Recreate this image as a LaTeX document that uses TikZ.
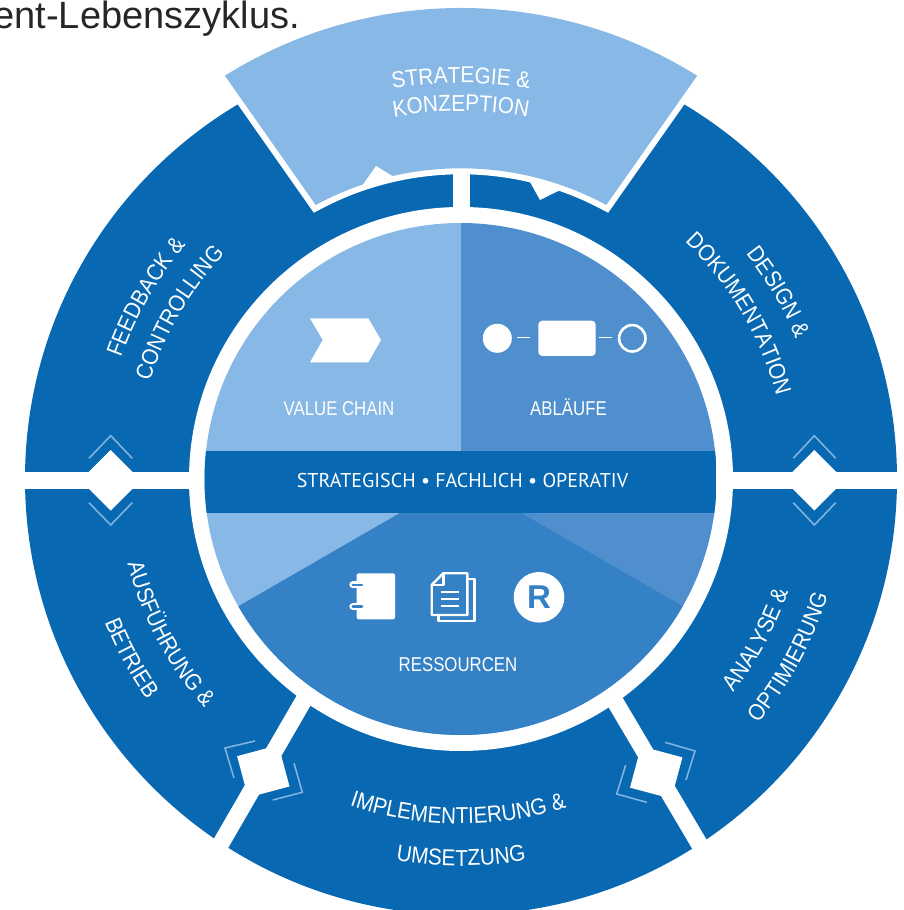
\documentclass[tikz,border=0pt]{standalone}
\usepackage{fontspec}
\usetikzlibrary{decorations.text}
\newfontfamily\ringfont[FakeStretch=0.9]{Liberation Sans}
\newfontfamily\flatfont[FakeStretch=0.84]{Liberation Sans}
\newfontfamily\hubfont{PT Sans}
\newfontfamily\headfont{Liberation Sans}
\newcommand*{\ringlbl}{\ringfont\fontsize{23}{27}\selectfont}
\newcommand*{\flatlbl}{\flatfont\fontsize{20}{24}\selectfont}
\newcommand*{\hublbl }{\hubfont\fontsize{20}{24}\selectfont}
\definecolor{ringblue}{HTML}{0868B2}
\definecolor{skyblue}{HTML}{88B9E6}
\definecolor{midblue}{HTML}{4F8FCD}
\definecolor{resblue}{HTML}{3581C6}
\definecolor{chevblue}{HTML}{7FB2E0}
\tikzset{
    chevline/.style = {draw=chevblue, line width=1.6pt},
    gapline/.style  = {draw=white, line width=17pt},
    iconline/.style = {draw=white, line width=2.4pt},
    hublabel/.style = {text=white, font=\flatlbl, anchor=base},
    arclabel/.style = {decorate, decoration={text along path, text align=center, text color=white, text={|\ringlbl|#1}}}
}
\begin{document}
\begin{tikzpicture}[x=1pt,y=1pt]
    \useasboundingbox (0,0) rectangle (904,910);
    \clip (0,0) rectangle (904,910);
    \node [anchor=base east, inner sep=0pt, text=black!85, font=\headfont\fontsize{38}{44}\selectfont] (headline) at (300,881) {ent-Lebenszyklus.};

    % outer ring with its gaps
    \fill [ringblue] (461,431) circle (436);
    \draw [gapline] (0,429.4) -- (904,429.4);
    \draw [gapline] (461.5,431) -- (461.5,745);
    \draw [gapline] (312,224) -- (216,58);
    \draw [gapline] (607,222) -- (704,58);
    \fill [white] (461,431) circle (272);
    \fill [white] (526,732) -- (530,728) -- (540,710) -- (558.3,719) -- (562,726) -- cycle;

    % the four gates
    \fill [white, shift={(110.7,429.7)}, rotate=45] (-21.4,-21.4) rectangle (21.4,21.4);
    \fill [white, shift={(814.3,429.7)}, rotate=45] (-21.4,-21.4) rectangle (21.4,21.4);
    \fill [white, shift={(263.3,138.7)}, rotate=15] (-21.4,-21.4) rectangle (21.4,21.4);
    \fill [white, shift={(656.2,137.5)}, rotate=-15] (-21.4,-21.4) rectangle (21.4,21.4);
    \draw [chevline] (89,451.7) -- (110.7,474.3) -- (132.3,451.7);
    \draw [chevline] (89,407.3) -- (110.7,385) -- (132.3,407.3);
    \draw [chevline] (793.3,451.7) -- (814.3,474.3) -- (835.7,451.7);
    \draw [chevline] (793.3,407.3) -- (814.3,385) -- (835.7,407.3);
    \draw [chevline] (255,169) -- (225,162) -- (234,132);
    \draw [chevline] (272.7,110) -- (302.3,117.7) -- (294,146.7);
    \draw [chevline] (665,167.7) -- (695,159) -- (686,130);
    \draw [chevline] (625.7,145) -- (616.7,116) -- (646.7,107.7);

    % raised segment
    \fill [skyblue, preaction={draw=white, line width=12pt}] (224.9,834.3) arc (122:58:445.6) -- (606.3,705) arc (61.65:118.35:306) -- cycle;
    \fill [white] (362,724) -- (376,744) -- (394,733) -- (380,727) -- cycle;

    % hub
    \begin{scope}
        \clip (460.5,431) circle (256);
        \fill [skyblue] (204,175) rectangle (460.5,687);
        \fill [midblue] (460.5,175) rectangle (717,687);
        \fill [resblue] (460.5,432) -- (200.7,282) -- (200.7,170) -- (720.3,170) -- (720.3,282) -- cycle;
        \fill [ringblue] (204,396.7) rectangle (717,459);
    \end{scope}

    % icons top
    \fill [white] (310,591.7) -- (368.3,591.7) -- (381,570) -- (368.3,547.7) -- (310,547.7) -- (322.7,570) -- cycle;
    \fill [white] (497.3,571.7) circle (14.5);
    \draw [white, line width=1.6pt] (517.3,572.3) -- (530,572.3);
    \fill [white, rounded corners=4pt] (538.3,554) rectangle (595.7,589.3);
    \draw [white, line width=1.6pt] (599.3,572.3) -- (612.3,572.3);
    \draw [iconline, line width=2.6pt] (632.3,571.7) circle (13.2);

    % icons bottom
    \fill [white, rounded corners=2pt] (356.7,290.7) rectangle (395,336.7);
    \foreach \ry in {325,303.3} {
        \draw [white, line width=7pt, line cap=round] (352.8,\ry) -- (362,\ry);
        \draw [resblue, line width=2.6pt, line cap=round] (352.8,\ry) -- (362,\ry);
    }
    \draw [iconline, line join=round] (443.3,336.7) -- (467.3,336.7) -- (467.3,295) -- (431.7,295) -- (431.7,325) -- cycle;
    \draw [iconline, line join=round] (443.3,336.7) -- (443.3,325) -- (431.7,325);
    \draw [iconline, line join=round] (468.3,330.7) -- (474.3,330.7) -- (474.3,289) -- (438.3,289) -- (438.3,295);
    \foreach \ly in {317.7,310.7,304} {
        \draw [iconline] (440.7,\ly) -- (459.3,\ly);
    }
    \fill [white] (539,312.7) circle (25.3);
    \node [text=resblue, font=\headfont\bfseries\fontsize{33}{33}\selectfont] (resmark) at (539,312.7) {R};

    % hub labels
    \node [text=white, font=\hublbl, anchor=base] (bandlabel) at (462.5,422.3) {STRATEGISCH • FACHLICH • OPERATIV};
    \node [hublabel] (valuelabel) at (339,494) {VALUE CHAIN};
    \node [hublabel] (flowlabel) at (568.5,494) {ABLÄUFE};
    \node [hublabel] (reslabel) at (458,238.3) {RESSOURCEN};

    % ring labels
    \begin{scope}[shift={(461,431)}]
        \path [arclabel={STRATEGIE {\&}}] (115:396) arc (115:65:396);
        \path [arclabel={KONZEPTION}] (115:368) arc (115:65:368);
        \path [arclabel={FEEDBACK {\&}}] (178:361) arc (178:122:361);
        \path [arclabel={CONTROLLING}] (177.5:326) arc (177.5:121.5:326);
        \path [arclabel={DESIGN {\&}}] (58:363) arc (58:3:363);
        \path [arclabel={DOKUMENTATION}] (62.7:326) arc (62.7:-1.3:326);
        \path [arclabel={AUSFÜHRUNG {\&}}] (178:344) arc (178:238:344);
        \path [arclabel={BETRIEB}] (183:384) arc (183:234:384);
        \path [arclabel={ANALYSE {\&}}] (-57:346) arc (-57:0:346);
        \path [arclabel={OPTIMIERUNG}] (-57:385) arc (-57:0:385);
        \path [arclabel={IMPLEMENTIERUNG {\&}}] (-130.5:345) arc (-130.5:-50.5:345);
        \path [arclabel={UMSETZUNG}] (-115:387) arc (-115:-65:387);
    \end{scope}
\end{tikzpicture}
\end{document}
